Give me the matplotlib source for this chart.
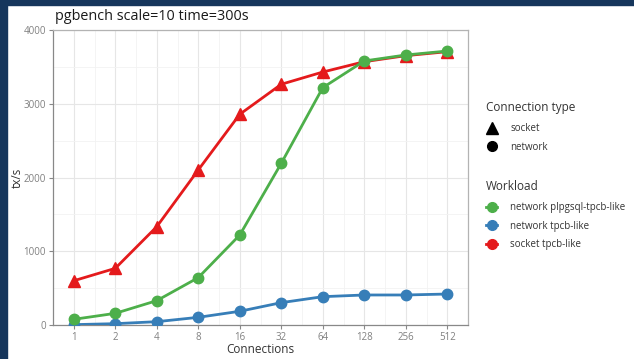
import matplotlib
matplotlib.use('Agg')
import matplotlib.pyplot as plt
from matplotlib.lines import Line2D
from matplotlib.patches import Rectangle

plt.rcParams['font.family'] = ['Open Sans', 'DejaVu Sans']

connections = ['1', '2', '4', '8', '16', '32', '64', '128', '256', '512']
socket_tpcb = [600, 768, 1333, 2102, 2857, 3264, 3430, 3570, 3652, 3706]
network_plpgsql = [77, 158, 330, 642, 1220, 2192, 3218, 3580, 3661, 3715]
network_tpcb = [5, 18, 45, 104, 186, 303, 384, 407, 407, 420]

RED = '#E41A1C'
GREEN = '#4DAF4A'
BLUE = '#377EB8'
NAVY = '#16365C'


def main():
    W, H = 634, 359
    fig = plt.figure(figsize=(W / 100, H / 100), dpi=100)
    fig.patch.set_facecolor('white')

    # navy frame on the left and top
    fig.patches.append(Rectangle((0, 0), 7 / W, 1, transform=fig.transFigure,
                                 color=NAVY, zorder=0))
    fig.patches.append(Rectangle((0, 1 - 5 / H), 1, 5 / H, transform=fig.transFigure,
                                 color=NAVY, zorder=0))

    ax = fig.add_axes([53 / W, (H - 325) / H, (468 - 53) / W, (325 - 30) / H])
    x = list(range(len(connections)))

    ax.plot(x, network_tpcb, '-o', color=BLUE, lw=2, ms=7.5, zorder=3)
    ax.plot(x, socket_tpcb, '-^', color=RED, lw=2, ms=8.5, zorder=4)
    ax.plot(x, network_plpgsql, '-o', color=GREEN, lw=2, ms=7.5, zorder=5)

    ax.set_xlim(-0.47, 9.47)
    ax.set_ylim(0, 4000)
    ax.set_xticks(x)
    ax.set_xticklabels(connections)
    ax.set_yticks([0, 1000, 2000, 3000, 4000])
    ax.set_xticks([i + 0.5 for i in range(-1, 10)], minor=True)
    ax.set_yticks([500, 1500, 2500, 3500], minor=True)
    ax.grid(True, which='major', color='#e6e6e6', lw=0.8)
    ax.grid(True, which='minor', color='#f2f2f2', lw=0.6)
    ax.set_axisbelow(True)
    ax.tick_params(which='major', labelsize=7, labelcolor='#808080', color='#888888',
                   length=3, width=0.8, pad=2)
    ax.tick_params(which='minor', length=0)
    for side in ['left', 'bottom']:
        ax.spines[side].set_color('#888888')
        ax.spines[side].set_linewidth(0.9)
    for side in ['top', 'right']:
        ax.spines[side].set_color('#b3b3b3')
        ax.spines[side].set_linewidth(0.9)

    ax.set_xlabel('Connections', fontsize=8.5, color='#333333', labelpad=0)
    ax.set_ylabel('tx/s', fontsize=8.5, color='#333333', labelpad=0)
    fig.text(55 / W, 1 - 16 / H, 'pgbench scale=10 time=300s', fontsize=10.4,
             color='#1a1a1a', ha='left', va='center')

    shape_handles = [
        Line2D([], [], marker='^', color='black', ls='none', ms=8),
        Line2D([], [], marker='o', color='black', ls='none', ms=7),
    ]
    leg1 = fig.legend(shape_handles, ['socket', 'network'], title='Connection type',
                      loc='upper left', bbox_to_anchor=(477 / W, 1 - 92 / H),
                      frameon=False, fontsize=7, title_fontsize=8.5,
                      handlelength=1.2, handletextpad=1.3, labelspacing=0.75,
                      alignment='left')
    workload_handles = [
        Line2D([], [], marker='o', color=GREEN, lw=2, ms=7),
        Line2D([], [], marker='o', color=BLUE, lw=2, ms=7),
        Line2D([], [], marker='o', color=RED, lw=2, ms=7),
    ]
    leg2 = fig.legend(workload_handles,
                      ['network plpgsql-tpcb-like', 'network tpcb-like', 'socket tpcb-like'],
                      title='Workload', loc='upper left',
                      bbox_to_anchor=(477 / W, 1 - 171 / H),
                      frameon=False, fontsize=7, title_fontsize=8.5,
                      handlelength=1.2, handletextpad=1.3, labelspacing=0.75,
                      alignment='left')
    for leg in (leg1, leg2):
        leg.get_title().set_color('#333333')
        leg._legend_box.sep = 7
        for t in leg.get_texts():
            t.set_color('#333333')

    fig.savefig('out.png', dpi=100)


main()
